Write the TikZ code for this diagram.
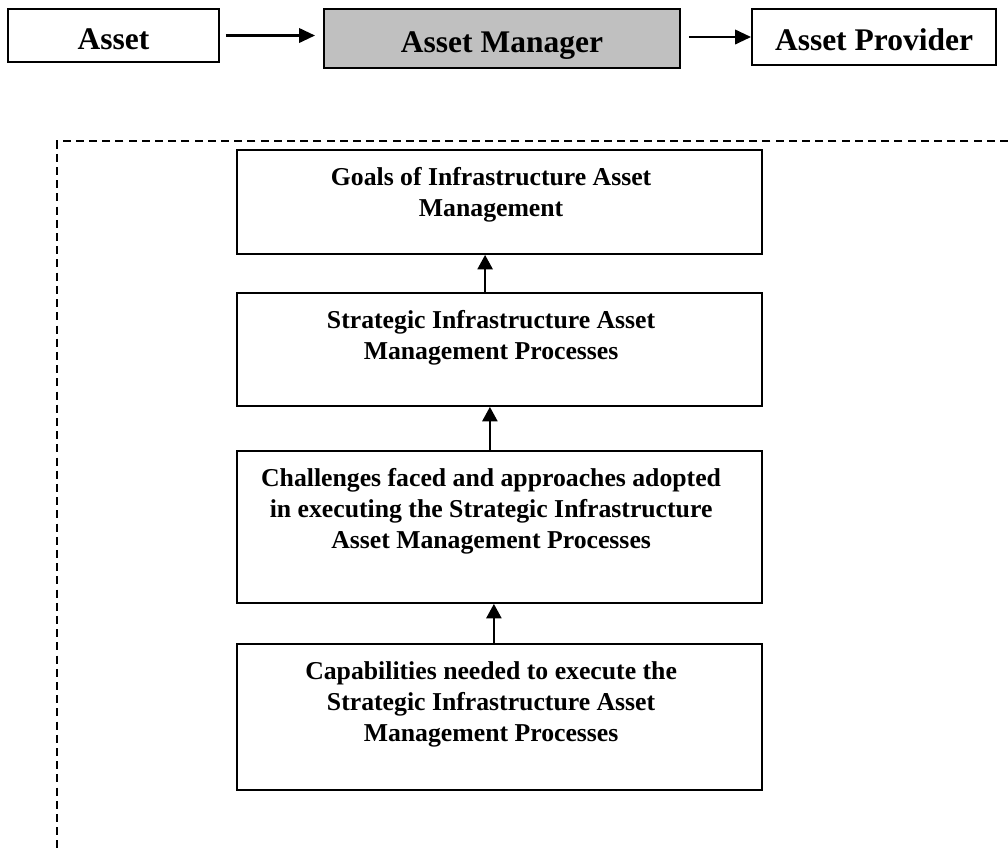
\documentclass[tikz,border=0pt]{standalone}
\usepackage{fontspec}
\setmainfont{Liberation Serif}
\usetikzlibrary{arrows.meta}
\definecolor{mgrey}{HTML}{C0C0C0}

\begin{document}
\begin{tikzpicture}[x=0.025cm, y=-0.025cm,
        box/.style={draw, line width=1.3pt, inner sep=0pt},
        toptext/.style={font=\bfseries\fontsize{22.4}{27}\selectfont, text height=0.68cm, text depth=0cm},
        bodytext/.style={font=\bfseries\fontsize{18.3}{22}\selectfont, align=center,
            anchor=north, inner sep=0pt, yshift=-0.45cm, xshift=-0.21cm},
        toparr/.style={-{Triangle[length=0.4cm, width=0.36cm]}, line width=1.8pt},
        uparr/.style={-{Triangle[length=0.36cm, width=0.38cm]}, line width=1.3pt},
        frame/.style={line width=1.1pt, dash pattern=on 0.2cm off 0.13cm}]
        \useasboundingbox (0, 0) rectangle (1008, 858);
        % top row
        \node [box, toptext, minimum width=5.275cm, minimum height=1.325cm] (asset) at (113.5, 35.5) {Asset};
        \node [box, toptext, fill=mgrey, minimum width=8.9cm, minimum height=1.475cm] (manager) at (502, 38.5) {Asset Manager};
        \node [box, toptext, minimum width=6.1cm, minimum height=1.4cm] (provider) at (874, 37) {Asset Provider};
        \draw [toparr, shorten <=0.15cm, shorten >=0.2cm] (asset.east) -- (asset.east -| manager.west);
        \draw [toparr, shorten <=0.2cm] (provider.west -| manager.east) -- (provider.west);
        % dashed frame
        \draw [frame] (1008, 141) -- (57, 141) -- (57, 853);
        % stacked boxes
        \node [box, minimum width=13.125cm, minimum height=2.6cm] (goals) at (499.5, 202) {};
        \node [bodytext] (goalstext) at (goals.north) {Goals of Infrastructure Asset\\ Management};
        \node [box, minimum width=13.125cm, minimum height=2.825cm] (strategic) at (499.5, 349.5) {};
        \node [bodytext] (strategictext) at (strategic.north) {Strategic Infrastructure Asset\\ Management Processes};
        \node [box, minimum width=13.125cm, minimum height=3.8cm] (challenges) at (499.5, 527) {};
        \node [bodytext] (challengestext) at (challenges.north) {Challenges faced and approaches adopted\\ in executing the Strategic Infrastructure\\ Asset Management Processes};
        \node [box, minimum width=13.125cm, minimum height=3.65cm] (capabilities) at (499.5, 717) {};
        \node [bodytext] (capabilitiestext) at (capabilities.north) {Capabilities needed to execute the\\ Strategic Infrastructure Asset\\ Management Processes};
        \draw [uparr] ([xshift=-0.36cm]strategic.north) -- ([xshift=-0.36cm]goals.south);
        \draw [uparr] ([xshift=-0.24cm]challenges.north) -- ([xshift=-0.24cm]strategic.south);
        \draw [uparr] ([xshift=-0.14cm]capabilities.north) -- ([xshift=-0.14cm]challenges.south);
    \end{tikzpicture}
\end{document}
